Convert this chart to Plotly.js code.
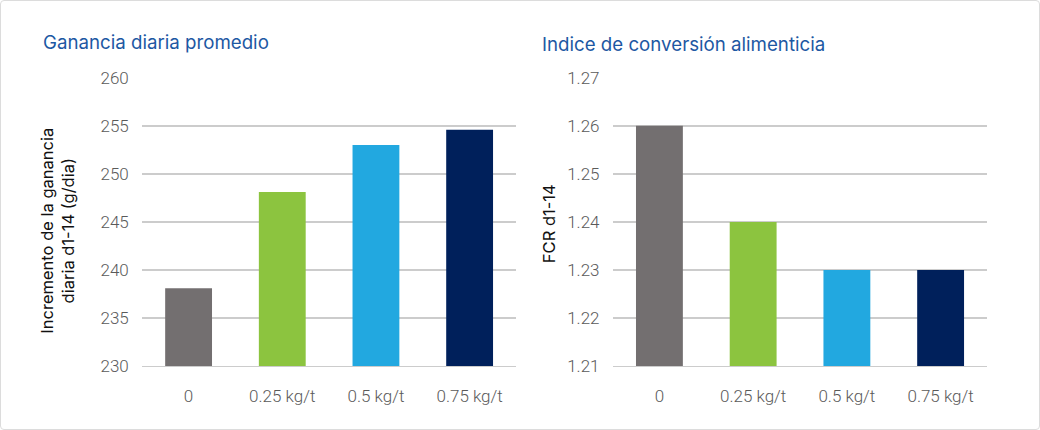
<!DOCTYPE html>
<html>
<head>
<meta charset="utf-8">
<script src="https://cdn.plot.ly/plotly-3.0.1.min.js"></script>
<style>
  body { margin: 0; background: #fff; }
  #wrap { position: relative; width: 1040px; height: 430px; }
  #frame { position: absolute; left: 0; top: 0; width: 1040px; height: 430px;
           box-sizing: border-box; border: 1px solid #dcdcdc; border-radius: 4px;
           pointer-events: none; }
</style>
</head>
<body>
<div id="wrap">
  <div id="chart"></div>
  <div id="frame"></div>
</div>
<script>
const doses = ['0', '0.25 kg/t', '0.5 kg/t', '0.75 kg/t'];
const gainValues = [238.1, 248.1, 253.0, 254.6];
const fcrValues = [1.26, 1.24, 1.23, 1.23];
const barColors = ['#736f70', '#8cc43f', '#22a8e0', '#00205b'];

const gridColor = '#cccccc';
const tickFont = { family: 'Roboto', size: 17, color: '#5a5a5a', weight: 300 };

const gainTrace = {
    x: doses,
    y: gainValues,
    type: 'bar',
    marker: { color: barColors },
    xaxis: 'x',
    yaxis: 'y'
};

const fcrTrace = {
    x: doses,
    y: fcrValues,
    type: 'bar',
    marker: { color: barColors },
    xaxis: 'x2',
    yaxis: 'y2'
};

function xAxis(domain, anchor) {
    return {
        domain: domain,
        anchor: anchor,
        type: 'category',
        showgrid: false,
        showline: true,
        linecolor: gridColor,
        linewidth: 1.5,
        ticks: '',
        ticklabelstandoff: 14,
        tickfont: tickFont,
        fixedrange: true
    };
}

function yAxis(range, dtick, anchor) {
    return {
        domain: [0.149, 0.819],
        anchor: anchor,
        range: range,
        dtick: dtick,
        tick0: range[0],
        showgrid: true,
        gridcolor: gridColor,
        gridwidth: 1.5,
        zeroline: false,
        showline: false,
        ticks: '',
        ticklabelstandoff: 12,
        tickfont: tickFont,
        automargin: false,
        fixedrange: true
    };
}

const titleFont = { family: 'Inter', size: 18.7, color: '#1d58a3' };
const axisTitleFont = { family: 'Inter', size: 16.5, color: '#111111' };

const layout = {
    width: 1040,
    height: 430,
    margin: { l: 0, r: 0, t: 0, b: 0 },
    paper_bgcolor: '#ffffff',
    plot_bgcolor: '#ffffff',
    showlegend: false,
    bargap: 0.5,
    xaxis: xAxis([0.1363, 0.4966], 'y'),
    yaxis: yAxis([230, 260], 5, 'x'),
    xaxis2: xAxis([0.589, 0.9495], 'y2'),
    yaxis2: yAxis([1.21, 1.27], 0.01, 'x2'),
    annotations: [
        {
            text: 'Ganancia diaria promedio',
            xref: 'paper', yref: 'paper', x: 0.039, y: 0.9,
            xanchor: 'left', yanchor: 'middle', showarrow: false,
            font: titleFont
        },
        {
            text: 'Indice de conversión alimenticia',
            xref: 'paper', yref: 'paper', x: 0.519, y: 0.896,
            xanchor: 'left', yanchor: 'middle', showarrow: false,
            font: titleFont
        },
        {
            text: 'Incremento de la ganancia<br>diaria d1-14 (g/dia)',
            xref: 'paper', yref: 'paper', x: 0.0555, y: 0.463,
            xanchor: 'center', yanchor: 'middle', showarrow: false,
            textangle: -90, font: axisTitleFont
        },
        {
            text: 'FCR d1-14',
            xref: 'paper', yref: 'paper', x: 0.528, y: 0.479,
            xanchor: 'center', yanchor: 'middle', showarrow: false,
            textangle: -90, font: axisTitleFont
        }
    ]
};

Plotly.newPlot('chart', [gainTrace, fcrTrace], layout, { displayModeBar: false, staticPlot: true });
</script>
</body>
</html>
